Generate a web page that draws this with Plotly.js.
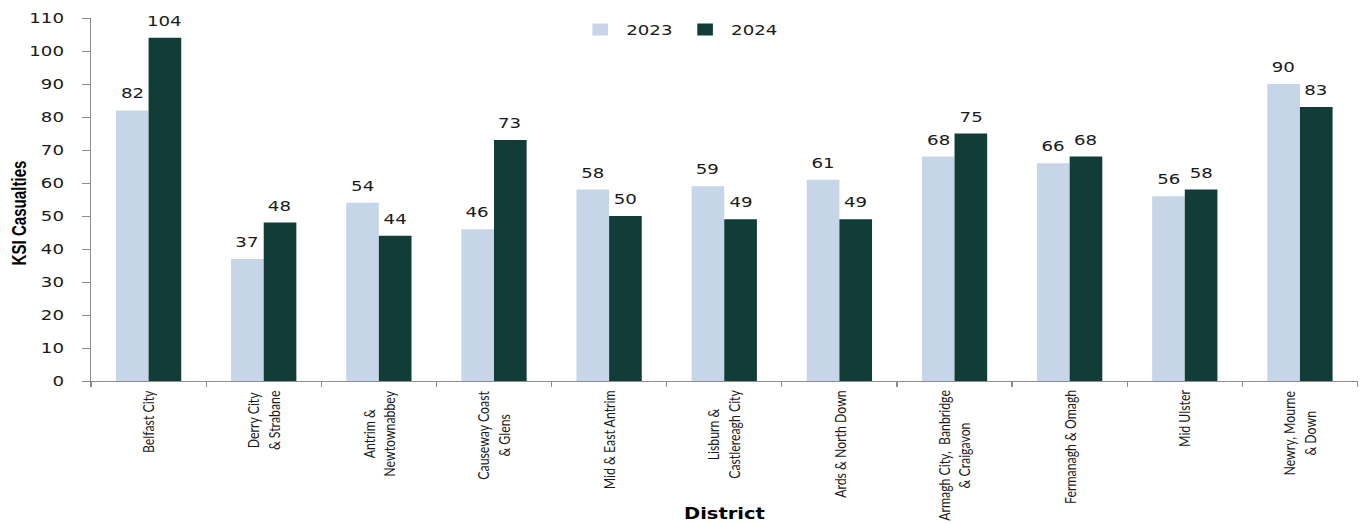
<!DOCTYPE html>
<html>
<head>
<meta charset="utf-8">
<script src="https://cdn.plot.ly/plotly-3.0.1.min.js"></script>
<style>
html,body{margin:0;padding:0;background:#fff;overflow:hidden;width:1364px;height:524px;}
#chart{width:1049px;height:524px;transform:scaleX(1.30029);transform-origin:0 0;}
</style>
</head>
<body>
<div id="chart"></div>
<script>
const districts = [
  "Belfast City",
  "Derry City<br>& Strabane",
  "Antrim &<br>Newtownabbey",
  "Causeway Coast<br>& Glens",
  "Mid & East Antrim",
  "Lisburn &<br>Castlereagh City",
  "Ards & North Down",
  "Armagh City,  Banbridge<br>& Craigavon",
  "Fermanagh & Omagh",
  "Mid Ulster",
  "Newry, Mourne<br>& Down"
];
const ksi2023 = [82, 37, 54, 46, 58, 59, 61, 68, 66, 56, 90];
const ksi2024 = [104, 48, 44, 73, 50, 49, 49, 75, 68, 58, 83];
const seriesNames = ["2023", "2024"];
const seriesColors = ["#c6d6e8", "#113c37"];
const yTitle = "KSI Casualties";
const xTitle = "District";

// The reference is an office chart stretched sideways; the page is drawn
// narrower and widened by CSS so text has the same stretched look.
const W = 1049, H = 524;
const M = {l: 70, r: 5, t: 18, b: 143};
const BARGAP = 0.433;

const catFamily = "Lato, 'Liberation Sans', sans-serif";
const titleFamily = "'Liberation Sans Narrow', 'Arial Narrow', 'Liberation Sans', Arial, sans-serif";
const wideFamily = "'DejaVu Sans', Verdana, sans-serif";

function textWidth(sample, family, weight, size) {
  const c = document.createElement("canvas").getContext("2d");
  c.font = weight + " " + size + "px " + family;
  return c.measureText(sample).width;
}
function fitSize(sample, family, weight, target) {
  return 100 * target / textWidth(sample, family, weight, 100);
}
const catSize = Math.min(
  fitSize("Newtownabbey", catFamily, "normal", 89),
  fitSize("Armagh City,  Banbridge", catFamily, "normal", 131)
);
const yTitleSize = fitSize(yTitle, titleFamily, "bold", 105);

const traces = [
  {type: "bar", name: seriesNames[0], x: districts, y: ksi2023,
   marker: {color: seriesColors[0], line: {width: 0}}, hoverinfo: "x+y"},
  {type: "bar", name: seriesNames[1], x: districts, y: ksi2024,
   marker: {color: seriesColors[1], line: {width: 0}}, hoverinfo: "x+y"}
];

// half a bar's width, in pixels, from the layout's own spacing
const catWidth = (W - M.l - M.r) / districts.length;
const barShift = catWidth * (1 - BARGAP) / 4;

const labelFont = {family: wideFamily, size: 14, color: "#1a1a1a"};
const annotations = [];
[ksi2023, ksi2024].forEach((vals, s) => {
  vals.forEach((v, i) => {
    annotations.push({
      x: districts[i], y: v, xref: "x", yref: "y",
      text: String(v), showarrow: false,
      xshift: s === 0 ? -barShift : barShift, yshift: 7,
      yanchor: "bottom", xanchor: "center", font: labelFont
    });
  });
});
// category labels under the axis, rotated, lines centred
districts.forEach((d) => {
  annotations.push({
    x: d, xref: "x", yref: "paper", y: -0.02,
    text: d, showarrow: false, textangle: -90, align: "center",
    xanchor: "center", yanchor: "top",
    font: {family: catFamily, size: catSize, color: "#1a1a1a"}
  });
});
annotations.push({
  text: yTitle, xref: "paper", yref: "paper",
  x: -0.0569, y: 0.463, textangle: -90, showarrow: false,
  xanchor: "center", yanchor: "middle",
  font: {family: titleFamily, size: yTitleSize, color: "#000", weight: "bold"}
});
annotations.push({
  text: xTitle, xref: "paper", yref: "paper",
  x: 0.5, y: -0.396, showarrow: false,
  xanchor: "center", yanchor: "bottom",
  font: {family: wideFamily, size: 15, color: "#000", weight: "bold"}
});

const layout = {
  width: W, height: H,
  margin: M,
  paper_bgcolor: "#ffffff", plot_bgcolor: "#ffffff",
  barmode: "group", bargap: BARGAP, bargroupgap: 0,
  showlegend: true,
  legend: {orientation: "h", x: 0.4647, xanchor: "center", y: 0.967, yanchor: "middle",
           bgcolor: "rgba(0,0,0,0)", font: {family: wideFamily, size: 14, color: "#1a1a1a"},
           itemwidth: 30, tracegroupgap: 0},
  xaxis: {
    type: "category", automargin: false, showticklabels: false,
    showline: true, linecolor: "#8c8c8c", linewidth: 1,
    ticks: "outside", ticklen: 5, tickcolor: "#8c8c8c", tickson: "boundaries",
    showgrid: false, zeroline: false, fixedrange: true
  },
  yaxis: {
    range: [0, 110], dtick: 10, tick0: 0, automargin: false,
    showline: true, linecolor: "#8c8c8c", linewidth: 1,
    ticks: "outside", ticklen: 6, tickcolor: "#8c8c8c",
    ticklabelstandoff: 11,
    tickfont: {family: wideFamily, size: 14, color: "#1a1a1a"},
    showgrid: false, zeroline: false, fixedrange: true
  },
  annotations: annotations
};

Plotly.newPlot("chart", traces, layout, {staticPlot: true, displayModeBar: false});
</script>
</body>
</html>
